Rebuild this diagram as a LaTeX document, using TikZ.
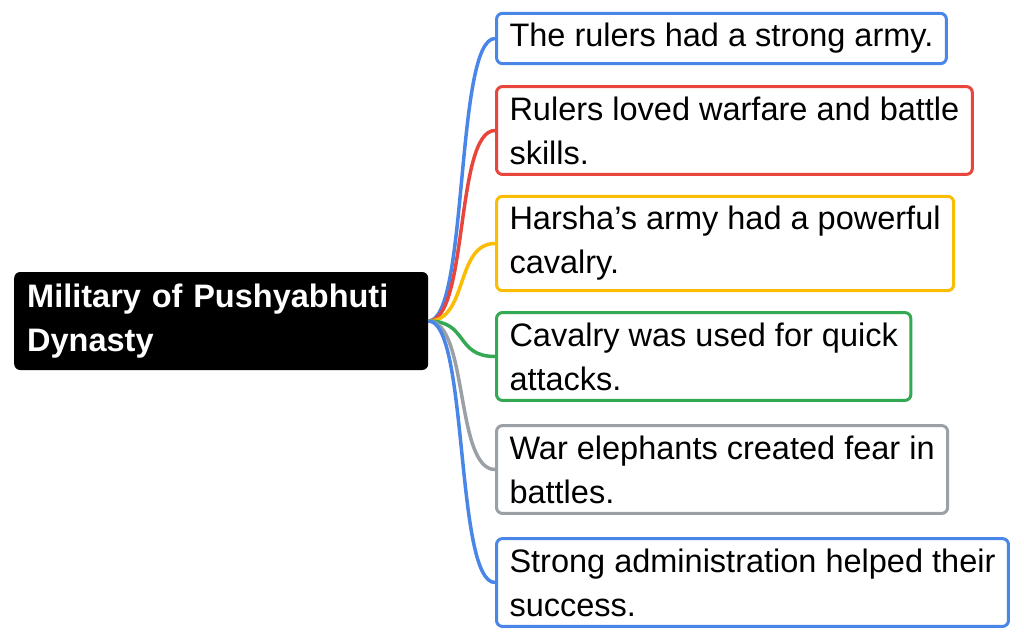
\documentclass[tikz,border=0pt]{standalone}
\usepackage{fontspec}
\setmainfont{Liberation Sans}
\definecolor{gblue}{HTML}{4A86E8}
\definecolor{gred}{HTML}{E8453C}
\definecolor{gyellow}{HTML}{FBBC04}
\definecolor{ggreen}{HTML}{34A853}
\definecolor{ggray}{HTML}{9AA0A6}
\begin{document}
\begin{tikzpicture}[x=1pt,y=-1pt,
  leaf/.style={draw=#1,line width=3pt,rounded corners=6pt,fill=white,anchor=west,align=left,
    inner xsep=13pt,inner ysep=10pt,font=\fontsize{32.5}{44}\selectfont},
  link/.style={draw=#1,line width=3.5pt}]
\useasboundingbox (0,0) rectangle (1024,643);
\node[fill=black,rounded corners=6pt,anchor=west,align=left,text=white,font=\fontsize{32.5}{44}\selectfont\bfseries,
  text width=388pt,minimum height=98pt,inner xsep=13pt] (root) at (14,321) {Military of Pushyabhuti\\Dynasty};
\node[leaf=gblue] (c1) at (495,38.5) {The rulers had a strong army.};
\node[leaf=gred] (c2) at (495,130.5) {Rulers loved warfare and battle\\skills.};
\node[leaf=gyellow] (c3) at (495,243.5) {Harsha\symbol{39}s army had a powerful\\cavalry.};
\node[leaf=ggreen] (c4) at (495,356.5) {Cavalry was used for quick\\attacks.};
\node[leaf=ggray] (c5) at (495,469.5) {War elephants created fear in\\battles.};
\node[leaf=gblue] (c6) at (495,582.5) {Strong administration helped their\\success.};
\foreach \n/\c in {c1/gblue,c2/gred,c3/gyellow,c4/ggreen,c5/ggray,c6/gblue}
  \draw[link=\c] (root.east) .. controls +(40,0) and +(-40,0) .. (\n.west);
\end{tikzpicture}
\end{document}
